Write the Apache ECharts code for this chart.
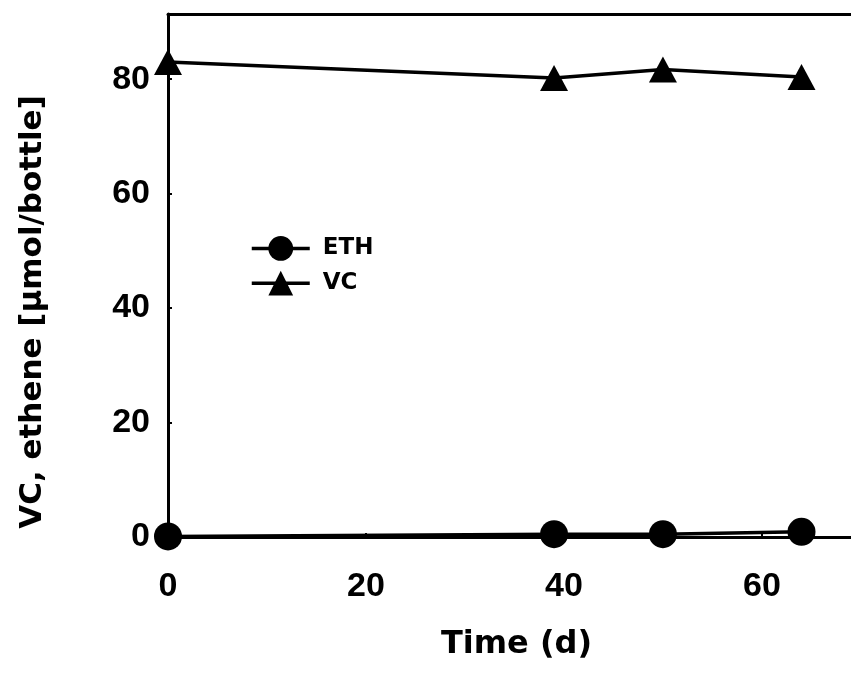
<!DOCTYPE html>
<html>
<head>
<meta charset="utf-8">
<script src="https://cdn.jsdelivr.net/npm/echarts@6/dist/echarts.min.js"></script>
<style>
  html, body { margin: 0; padding: 0; background: #fff; }
  #chart { width: 851px; height: 675px; }
</style>
</head>
<body>
<div id="chart"></div>
<script>
// values
const days = [0, 39, 50, 64]
const eth = [0.1, 0.5, 0.5, 0.9]
const vc = [83.0, 80.2, 81.7, 80.4]
const yTicks = [0, 20, 40, 60, 80]
const xTicks = [0, 20, 40, 60]

const toPairs = (xs, ys) => xs.map((x, i) => [x, ys[i]])

const chart = echarts.init(document.getElementById('chart'))

const labelFont = {
  color: '#000',
  fontFamily: 'Liberation Sans',
  fontWeight: 'bold',
  fontSize: 34
}

const option = {
  animation: false,
  backgroundColor: '#fff',
  grid: { left: 168, right: 0, top: 14, bottom: 138 },
  legend: {
    orient: 'vertical',
    left: 245,
    top: 231,
    itemWidth: 58,
    itemHeight: 31,
    itemGap: 10,
    lineStyle: { width: 3.5 },
    textStyle: {
      color: '#000',
      fontFamily: 'DejaVu Sans',
      fontWeight: 'bold',
      fontSize: 23,
      padding: [0, 0, 0, 8]
    },
    data: ['ETH', 'VC']
  },
  xAxis: [
    {
      type: 'value',
      min: 0,
      max: 69,
      interval: 20,
      splitLine: { show: false },
      axisLine: { lineStyle: { color: '#000', width: 3 } },
      axisTick: { inside: true, length: 4, lineStyle: { color: '#000', width: 2 } },
      axisLabel: {
        ...labelFont,
        margin: 33,
        showMaxLabel: false,
        formatter: v => (xTicks.includes(v) ? String(v) : '')
      },
      name: 'Time (d)',
      nameLocation: 'middle',
      nameGap: 92,
      nameTextStyle: {
        color: '#000',
        fontFamily: 'DejaVu Sans',
        fontWeight: 'bold',
        fontSize: 32,
        padding: [0, 0, 0, 14]
      }
    },
    {
      // top frame line only
      type: 'value',
      position: 'top',
      min: 0,
      max: 69,
      axisLine: { show: true, lineStyle: { color: '#000', width: 3 } },
      axisTick: { show: false },
      axisLabel: { show: false },
      splitLine: { show: false }
    }
  ],
  yAxis: {
    type: 'value',
    min: 0,
    max: 91.4,
    interval: 20,
    splitLine: { show: false },
    axisLine: { show: true, lineStyle: { color: '#000', width: 3 } },
    axisTick: { show: true, inside: true, length: 4, lineStyle: { color: '#000', width: 2 } },
    axisLabel: {
      ...labelFont,
      margin: 18,
      showMaxLabel: false,
      formatter: v => (yTicks.includes(v) ? String(v) : '')
    }
  },
  graphic: [
    {
      type: 'text',
      x: 33,
      y: 312,
      rotation: Math.PI / 2,
      style: {
        text: 'VC, ethene [μmol/bottle]',
        fill: '#000',
        font: 'bold 31px "DejaVu Sans"',
        align: 'center',
        verticalAlign: 'middle'
      }
    }
  ],
  series: [
    {
      name: 'ETH',
      type: 'line',
      data: toPairs(days, eth),
      symbol: 'circle',
      symbolSize: 28,
      lineStyle: { color: '#000', width: 3.5 },
      itemStyle: { color: '#000' },
      z: 3
    },
    {
      name: 'VC',
      type: 'line',
      data: toPairs(days, vc),
      symbol: 'triangle',
      symbolSize: [28, 26],
      lineStyle: { color: '#000', width: 3.5 },
      itemStyle: { color: '#000' },
      z: 3
    }
  ]
}

chart.setOption(option)
</script>
</body>
</html>
